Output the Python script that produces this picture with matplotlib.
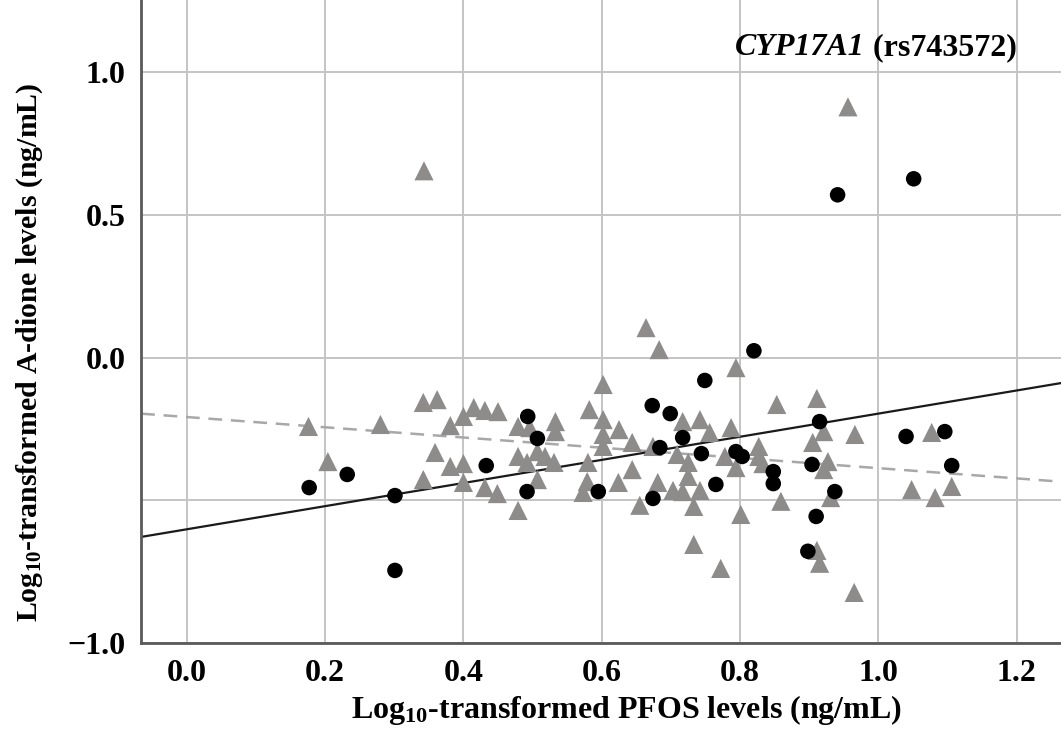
import matplotlib
matplotlib.use("Agg")
import matplotlib.pyplot as plt
import numpy as np

plt.rcParams['font.family'] = ['Liberation Serif', 'DejaVu Serif']
plt.rcParams['font.weight'] = 'bold'
plt.rcParams['mathtext.fontset'] = 'custom'
plt.rcParams['mathtext.rm'] = 'Liberation Serif:bold'
plt.rcParams['mathtext.it'] = 'Liberation Serif:italic:bold'
plt.rcParams['mathtext.bf'] = 'Liberation Serif:bold'

# genotype group shown as grey triangles
tri_x = [0.176, 0.204, 0.280, 0.342, 0.362, 0.359, 0.342, 0.381, 0.400, 0.415,
         0.431, 0.450, 0.381, 0.400, 0.400, 0.431, 0.449, 0.479, 0.479, 0.496,
         0.533, 0.533, 0.479, 0.492, 0.507, 0.518, 0.531, 0.507, 0.582, 0.602,
         0.602, 0.602, 0.602, 0.625, 0.644, 0.580, 0.579, 0.573, 0.624, 0.644,
         0.655, 0.664, 0.683, 0.674, 0.717, 0.742, 0.756, 0.709, 0.725, 0.725,
         0.778, 0.681, 0.703, 0.717, 0.742, 0.733, 0.733, 0.772, 0.794, 0.787,
         0.794, 0.827, 0.827, 0.833, 0.853, 0.911, 0.921, 0.905, 0.927, 0.921,
         0.931, 0.859, 0.801, 0.911, 0.915, 0.965, 0.966, 1.077, 1.048, 1.082,
         1.106, 0.343, 0.956]
tri_y = [-0.241, -0.364, -0.234, -0.157, -0.147, -0.332, -0.427, -0.238, -0.206, -0.175,
         -0.185, -0.189, -0.381, -0.371, -0.437, -0.455, -0.476, -0.535, -0.241, -0.245,
         -0.224, -0.259, -0.346, -0.367, -0.329, -0.346, -0.367, -0.427, -0.182, -0.094,
         -0.217, -0.269, -0.311, -0.252, -0.297, -0.367, -0.434, -0.472, -0.437, -0.392,
         -0.517, 0.105, 0.028, -0.311, -0.224, -0.217, -0.262, -0.339, -0.367, -0.416,
         -0.346, -0.437, -0.465, -0.469, -0.465, -0.521, -0.654, -0.738, -0.035, -0.245,
         -0.385, -0.311, -0.346, -0.371, -0.164, -0.143, -0.259, -0.297, -0.364, -0.392,
         -0.490, -0.503, -0.549, -0.675, -0.720, -0.822, -0.269, -0.262, -0.462, -0.490,
         -0.451, 0.654, 0.878]

# genotype group shown as black circles
dot_x = [0.177, 0.232, 0.301, 0.301, 0.433, 0.493, 0.492, 0.507, 0.595, 0.673,
         0.699, 0.684, 0.674, 0.749, 0.717, 0.744, 0.765, 0.820, 0.794, 0.803,
         0.848, 0.848, 0.915, 0.904, 0.937, 0.910, 0.898, 1.040, 1.096, 1.106,
         0.941, 1.051]
dot_y = [-0.455, -0.409, -0.483, -0.745, -0.378, -0.206, -0.469, -0.283, -0.469, -0.168,
         -0.196, -0.315, -0.493, -0.080, -0.280, -0.336, -0.444, 0.024, -0.329, -0.346,
         -0.399, -0.441, -0.224, -0.374, -0.469, -0.556, -0.678, -0.276, -0.259, -0.378,
         0.570, 0.626]

# fitted lines (intercept, slope)
fit_dots = (-0.601, 0.405)
fit_tris = (-0.208, -0.179)

x_ticks = [0.0, 0.2, 0.4, 0.6, 0.8, 1.0, 1.2]
y_ticks = [-1.0, -0.5, 0.0, 0.5, 1.0]
y_tick_labels = ['\u22121.0', '', '0.0', '0.5', '1.0']

fig = plt.figure(figsize=(10.61, 7.36), dpi=100)
ax = fig.add_axes([0.133, 0.126, 0.867, 0.874])

xmin, xmax = -0.066, 1.264
ymin, ymax = -1.0, 1.252

ax.grid(True, color='#c4c4c4', linewidth=1.4, zorder=0)
ax.set_axisbelow(True)

xs = np.array([xmin, xmax])
ax.plot(xs, fit_tris[0] + fit_tris[1] * xs, color='#a8a8a8', linewidth=1.8,
        dashes=(5.5, 3.5), zorder=2)
ax.plot(xs, fit_dots[0] + fit_dots[1] * xs, color='#1a1a1a', linewidth=1.6, zorder=2)

ax.scatter(tri_x, tri_y, marker='^', s=190, color='#8e8b8b', edgecolors='none', zorder=3)
ax.scatter(dot_x, dot_y, marker='o', s=125, color='black', edgecolors='none', zorder=4)

ax.set_xlim(xmin, xmax)
ax.set_ylim(ymin, ymax)
ax.set_xticks(x_ticks)
ax.set_xticklabels([f'{v:.1f}' for v in x_ticks])
ax.set_yticks(y_ticks)
ax.set_yticklabels(y_tick_labels)
ax.tick_params(length=0, labelsize=23, pad=11)

for s in ['top', 'right']:
    ax.spines[s].set_visible(False)
for s in ['left', 'bottom']:
    ax.spines[s].set_color('#5a5a5a')
    ax.spines[s].set_linewidth(2)

ax.set_xlabel('Log$_{10}$-transformed PFOS levels (ng/mL)', fontsize=23,
              fontweight='bold')
ax.xaxis.set_label_coords(0.528, -0.078)
ax.set_ylabel('Log$_{10}$-transformed A-dione levels (ng/mL)', fontsize=21.5,
              fontweight='bold')
ax.yaxis.set_label_coords(-0.105, 0.453)

rs = ax.text(1.2, 1.085, ' (rs743572)', fontsize=23, fontweight='bold',
             ha='right', va='center')
ax.annotate('CYP17A1', xy=(0, 0.5), xycoords=rs, fontsize=23,
            fontweight='bold', fontstyle='italic', ha='right', va='center')

fig.savefig('out.png', dpi=100)
